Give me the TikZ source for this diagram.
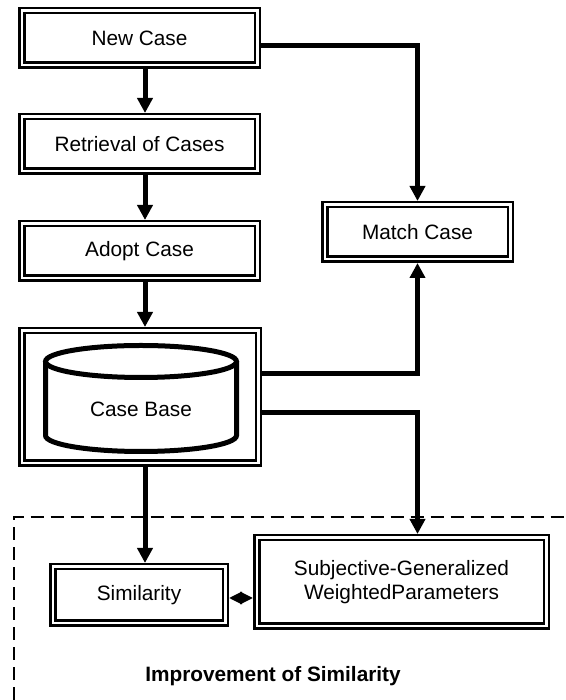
\documentclass[tikz,border=0pt]{standalone}
\usepackage{fontspec}
\setmainfont{Liberation Sans}
\usetikzlibrary{arrows.meta}

\begin{document}
\begin{tikzpicture}[x=1pt,y=1pt,
    box/.style={draw,line width=2.5pt,double,double distance=2.5pt,outer sep=3.75pt,inner sep=0pt,align=center,font=\fontsize{20.8}{24.5}\selectfont},
    link/.style={line width=5pt,-{Triangle[length=15pt,width=15pt]}},
    both/.style={line width=3pt,{Triangle[length=13pt,width=12pt]}-{Triangle[length=13pt,width=12pt]}}]
    \useasboundingbox (0,0) rectangle (565,700);
    \node[box,minimum width=235.5pt,minimum height=54.5pt] (new)   at (139.5,662) {New Case};
    \node[box,minimum width=235.5pt,minimum height=54.5pt] (retr)  at (139.5,556) {Retrieval of Cases};
    \node[box,minimum width=235.5pt,minimum height=54.5pt] (adopt) at (139.5,449) {Adopt Case};
    \node[box,minimum width=236.5pt,minimum height=132.5pt] (base) at (140,303) {};
    \node[box,minimum width=185.5pt,minimum height=54.5pt] (match) at (417.5,468) {Match Case};
    \node[box,minimum width=172.5pt,minimum height=56.5pt] (sim)   at (139,105) {Similarity};
    \node[box,minimum width=289.5pt,minimum height=88.5pt] (subj)  at (401.5,118) {Subjective-Generalized\\WeightedParameters};
    \draw[line width=5pt] (141,338.5) ellipse [x radius=95.5, y radius=16];
    \draw[line width=5pt] (45.5,338.5) -- (45.5,264.5) arc[start angle=180,end angle=360,x radius=95.5,y radius=16] -- (236.5,338.5);
    \node[font=\fontsize{20.8}{24.5}\selectfont] (basetxt) at (141,291) {Case Base};
    \draw[link] ([xshift=5.5pt]new.south) -- ([xshift=5.5pt]retr.north);
    \draw[link] ([xshift=5.5pt]retr.south) -- ([xshift=5.5pt]adopt.north);
    \draw[link] ([xshift=5.5pt]adopt.south) -- ([xshift=5pt]base.north);
    \draw[link] ([xshift=5pt]base.south) -- ([xshift=6pt]sim.north);
    \draw[link] ([yshift=-8pt]new.east) -| (match.north);
    \draw[link] ([yshift=23.5pt]base.east) -| (match.south);
    \draw[link] ([yshift=-15.5pt]base.east) -| (match.south |- subj.north);
    \draw[both] ([yshift=-3pt]sim.east) -- ([yshift=-3pt]sim.east -| subj.west);
    \draw[line width=2pt,dash pattern=on 13pt off 7pt] (13.5,0) -- (13.5,183) -- (565,183);
    \node[font=\fontsize{20.8}{24.5}\selectfont\bfseries,anchor=base] (impr) at (273,18) {Improvement of Similarity};
\end{tikzpicture}
\end{document}
